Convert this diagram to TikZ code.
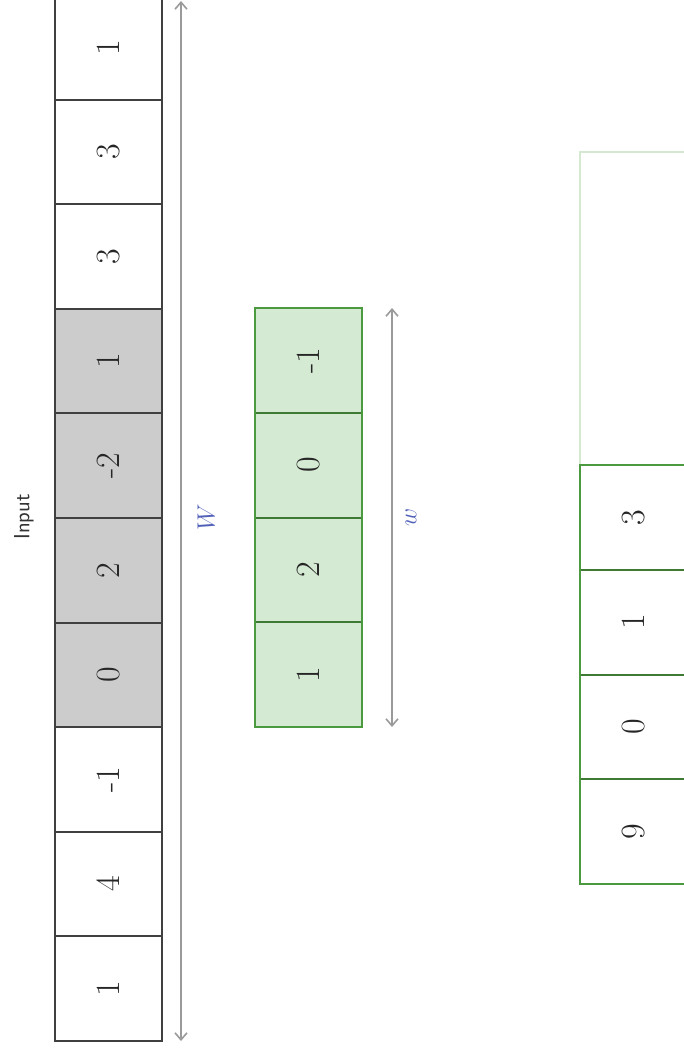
\documentclass[tikz,border=0pt]{standalone}
\usetikzlibrary{arrows.meta}
\definecolor{cellgray}{HTML}{CCCCCC}
\definecolor{kfill}{HTML}{D4EAD2}
\definecolor{kdraw}{HTML}{4C9A3F}
\definecolor{kinner}{HTML}{3E7A34}
\definecolor{olight}{HTML}{D5E9D1}
\definecolor{lblue}{HTML}{5060B8}
\definecolor{arrgray}{HTML}{9A9A9A}
\begin{document}
\begin{tikzpicture}[x=1pt,y=-1pt,
  cell/.style={minimum width=104.6pt, minimum height=107pt,
    rotate=90, inner sep=0pt, font=\fontsize{34}{38}\selectfont, text=black!85},
  graycell/.style={cell, fill=cellgray},
  kcell/.style={cell, fill=kfill},
  ocell/.style={cell, fill=white},
  sep/.style={draw=black!75, line width=2pt},
  ksep/.style={draw=kinner, line width=2pt},
  dimarrow/.style={draw=arrgray, line width=1.6pt, {Straight Barb[length=7pt,width=12pt]}-{Straight Barb[length=7pt,width=12pt]}},
  dimlabel/.style={text=lblue, rotate=90, font=\fontsize{28}{32}\selectfont},
  title/.style={rotate=90, font=\sffamily\fontsize{22}{26}\selectfont, text=black!80}]
\useasboundingbox (0,0) rectangle (683,1057);
% input row
\foreach \v [count=\i from 0] in {1,3,3,1,-2,2,0,-1,4,1} {
  \pgfmathsetmacro{\yc}{-5+104.6*(\i+0.5)}
  \ifnum\i>2 \ifnum\i<7
    \node[graycell] (in\i) at (108.5,\yc) {\v};
  \else
    \node[cell] (in\i) at (108.5,\yc) {\v};
  \fi\else
    \node[cell] (in\i) at (108.5,\yc) {\v};
  \fi
}
\foreach \i in {1,...,9} {
  \pgfmathsetmacro{\yb}{round(-5+104.6*\i)}
  \draw[sep] (55,\yb) -- (162,\yb);
}
\draw[black!75, line width=2.4pt] (55,-5) rectangle (162,1041);
\draw[black!75, line width=2.4pt] (55,309) rectangle (162,727);
% kernel
\foreach \v [count=\i from 0] in {-1,0,2,1} {
  \pgfmathsetmacro{\yc}{308+104.75*(\i+0.5)}
  \node[kcell] (k\i) at (308.5,\yc) {\v};
}
\foreach \i in {1,2,3} {
  \pgfmathsetmacro{\yb}{round(308+104.75*\i)}
  \draw[ksep] (255,\yb) -- (362,\yb);
}
\draw[kdraw, line width=2.4pt] (255,308) rectangle (362,727);
% output
\node[draw=olight, line width=1.2pt, minimum width=107pt, minimum height=313pt, inner sep=0pt] (oempty) at (633.5,308.5) {};
\foreach \v [count=\i from 0] in {3,1,0,9} {
  \pgfmathsetmacro{\yc}{465+104.75*(\i+0.5)}
  \node[ocell] (o\i) at (633.5,\yc) {\v};
}
\foreach \i in {1,2,3} {
  \pgfmathsetmacro{\yb}{round(465+104.75*\i)}
  \draw[ksep] (580,\yb) -- (687,\yb);
}
\draw[kdraw, line width=2.4pt] (580,465) rectangle (687,884);
% dimension arrows
\coordinate (Wt) at (181,1);
\coordinate (Wb) at (181,1041);
\draw[dimarrow] (Wt) -- (Wb);
\coordinate (wt) at (392,308);
\coordinate (wb) at (392,727);
\draw[dimarrow] (wt) -- (wb);
\node[dimlabel] (Wlab) at (206,517) {$W$};
\node[dimlabel] (wlab) at (411,517) {$w$};
\node[title] (inlab) at (24,517) {Input};
\end{tikzpicture}
\end{document}
